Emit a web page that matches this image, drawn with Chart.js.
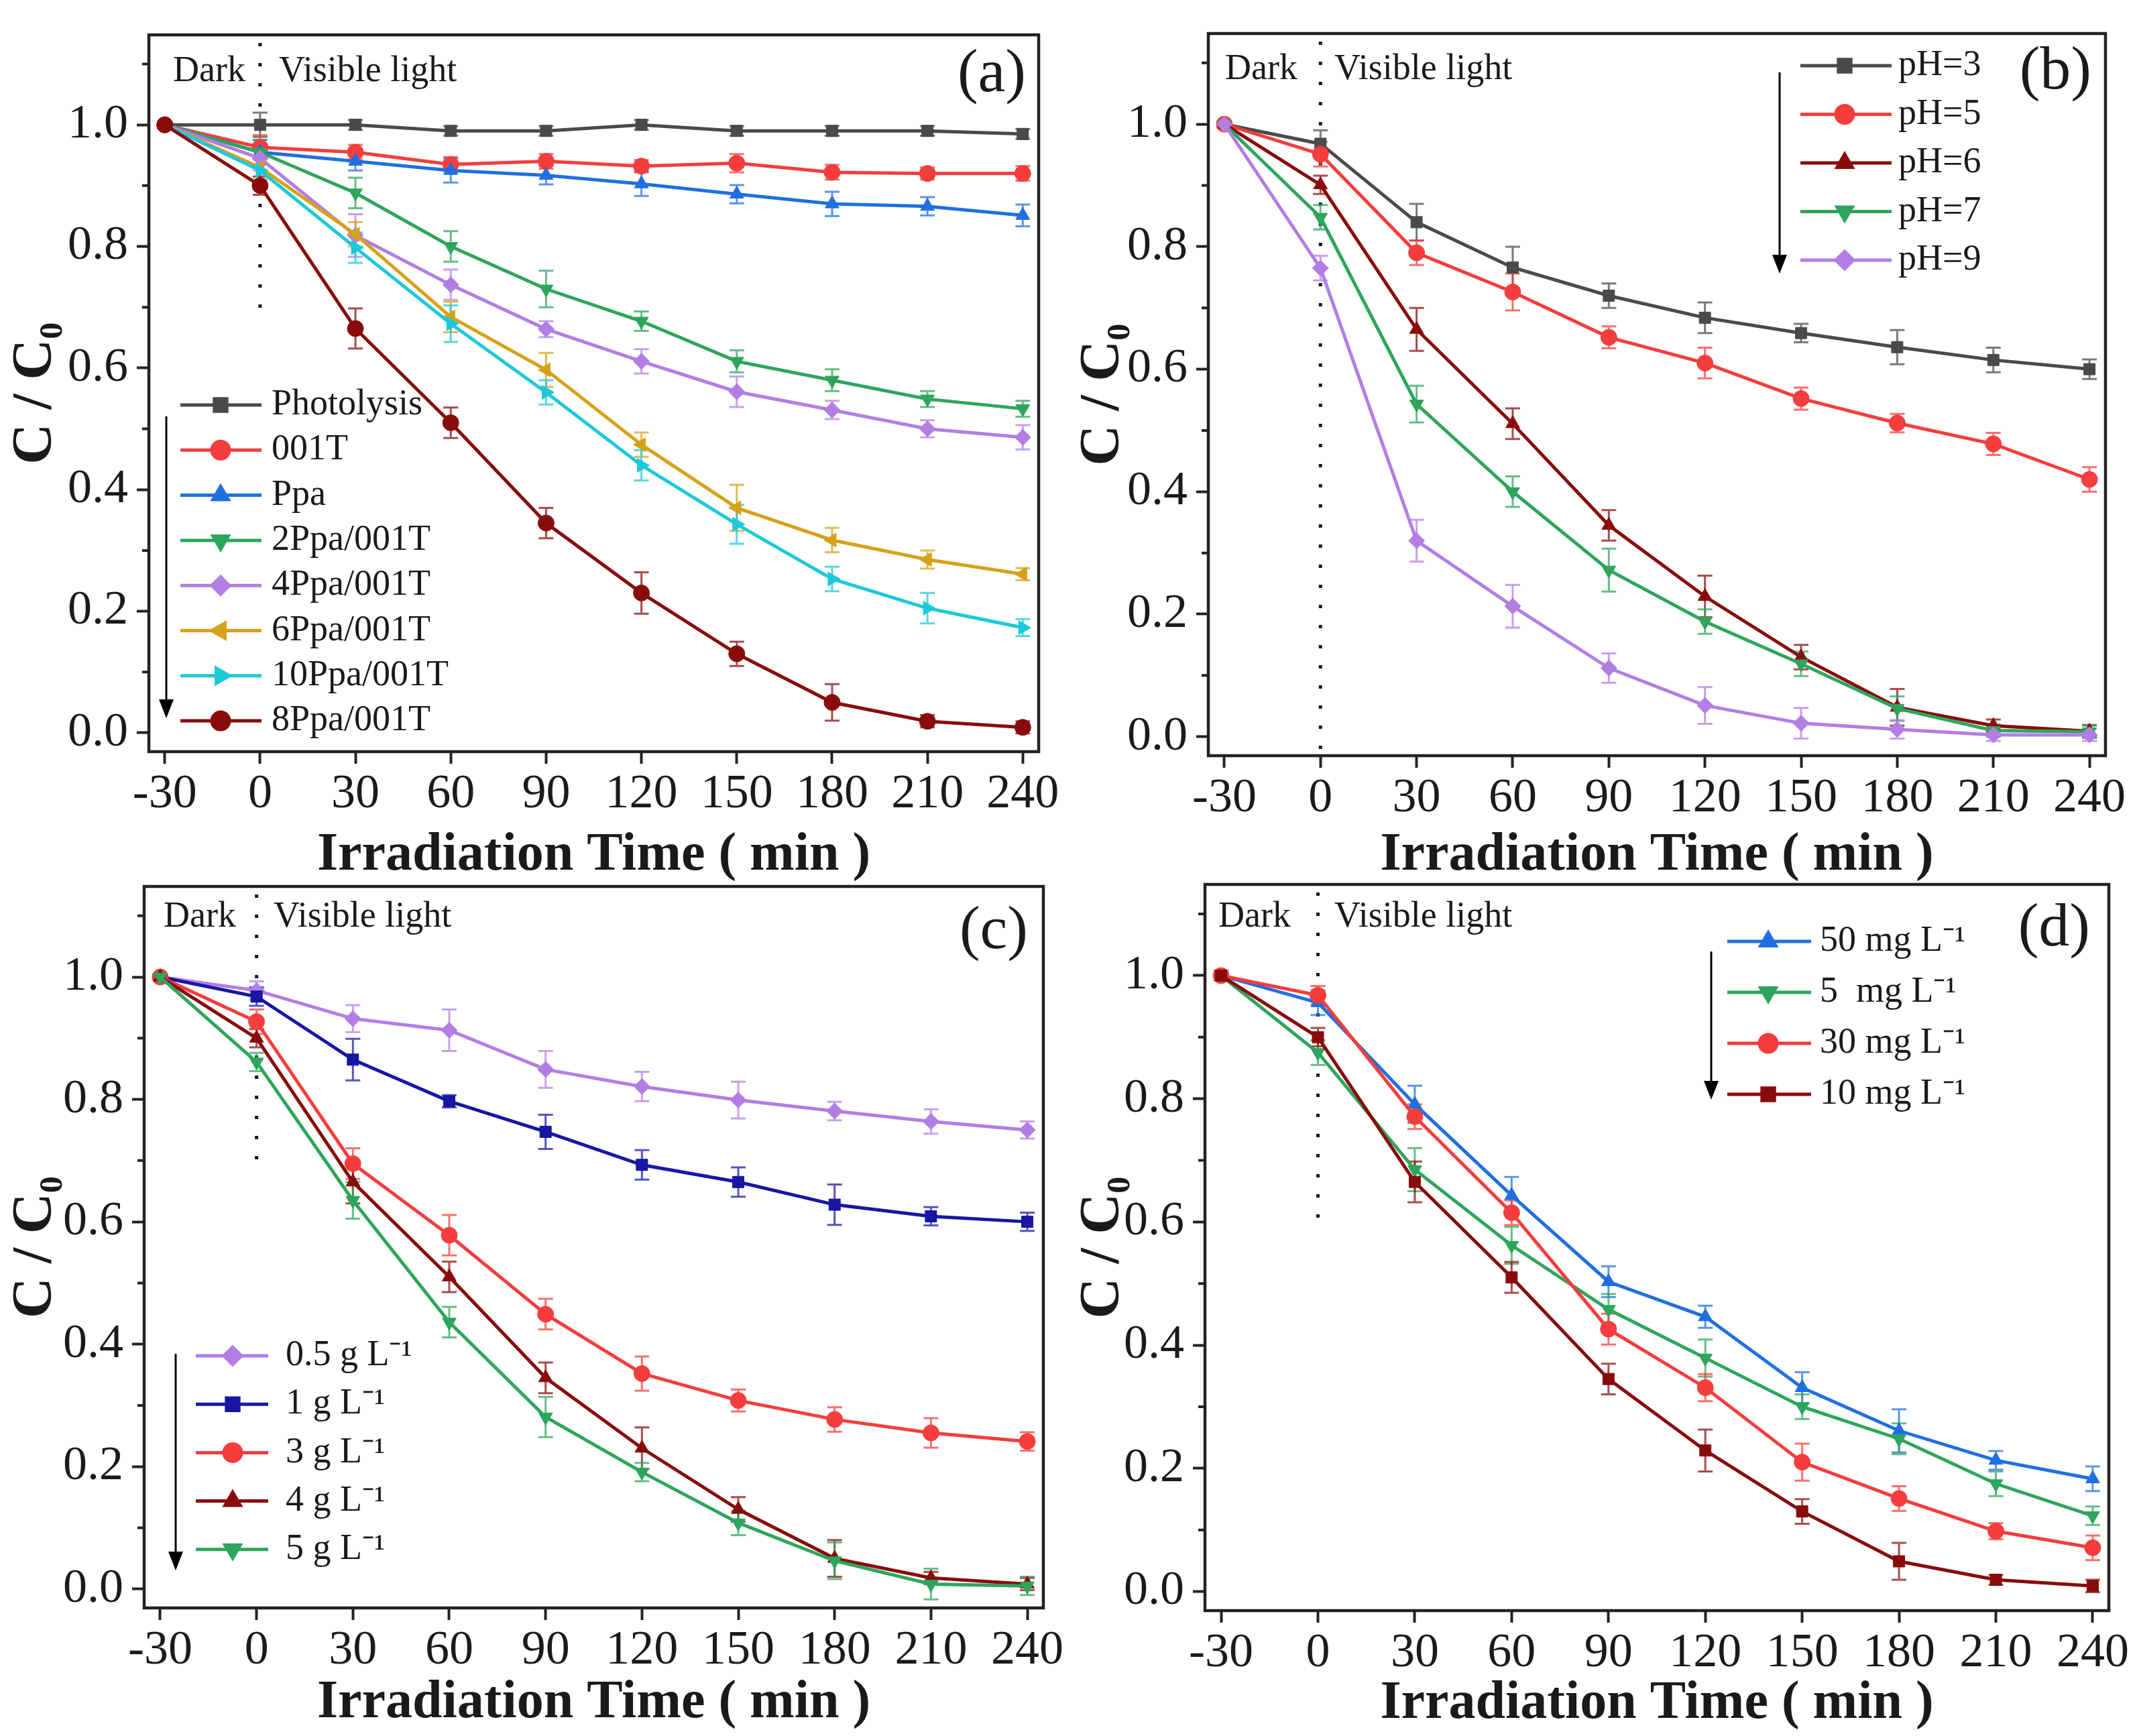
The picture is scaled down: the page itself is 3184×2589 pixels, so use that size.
<!DOCTYPE html>
<html>
<head>
<meta charset="utf-8">
<script src="https://cdn.jsdelivr.net/npm/chart.js@4.4.1/dist/chart.umd.min.js"></script>
<style>
  html, body { margin: 0; padding: 0; background: #fff; }
  #wrap { position: relative; width: 3184px; height: 2589px; overflow: hidden; }
  canvas { position: absolute; }
</style>
</head>
<body>
<div id="wrap">
  <canvas id="chartA" width="1592" height="1330" style="left:0px;top:0px"></canvas>
  <canvas id="chartB" width="1592" height="1330" style="left:1592px;top:0px"></canvas>
  <canvas id="chartC" width="1592" height="1330" style="left:0px;top:1259px"></canvas>
  <canvas id="chartD" width="1592" height="1330" style="left:1592px;top:1259px"></canvas>
</div>
<script>
// shared axes
const timeMin = [-30, 0, 30, 60, 90, 120, 150, 180, 210, 240];
const xTicks = [-30, 0, 30, 60, 90, 120, 150, 180, 210, 240];
const yTicks = [0, 0.2, 0.4, 0.6, 0.8, 1.0];
const yMinor = [0.1, 0.3, 0.5, 0.7, 0.9, 1.1];

// (a) catalysts
const namesA = ['Photolysis', '001T', 'Ppa', '2Ppa/001T', '4Ppa/001T', '6Ppa/001T', '10Ppa/001T', '8Ppa/001T'];
const photolysis = [1.0, 1.0, 1.0, 0.99, 0.99, 1.0, 0.99, 0.99, 0.99, 0.985];
const photolysisErr = [0.005, 0.02, 0.008, 0.008, 0.008, 0.008, 0.008, 0.008, 0.008, 0.008];
const t001 = [1.0, 0.963, 0.955, 0.935, 0.94, 0.932, 0.937, 0.922, 0.92, 0.92];
const t001Err = [0.005, 0.02, 0.012, 0.012, 0.012, 0.01, 0.015, 0.012, 0.01, 0.012];
const ppa = [1.0, 0.955, 0.94, 0.925, 0.917, 0.903, 0.886, 0.87, 0.866, 0.851];
const ppaErr = [0.005, 0.02, 0.015, 0.02, 0.015, 0.02, 0.015, 0.02, 0.015, 0.018];
const ppa2 = [1.0, 0.955, 0.888, 0.80, 0.73, 0.677, 0.611, 0.58, 0.549, 0.533];
const ppa2Err = [0.005, 0.02, 0.025, 0.025, 0.03, 0.016, 0.018, 0.018, 0.013, 0.013];
const ppa4 = [1.0, 0.945, 0.818, 0.737, 0.664, 0.611, 0.561, 0.531, 0.50, 0.486];
const ppa4Err = [0.005, 0.02, 0.035, 0.025, 0.013, 0.02, 0.025, 0.015, 0.014, 0.02];
const ppa6 = [1.0, 0.93, 0.82, 0.684, 0.597, 0.474, 0.37, 0.317, 0.285, 0.261];
const ppa6Err = [0.005, 0.02, 0.02, 0.025, 0.028, 0.02, 0.038, 0.02, 0.015, 0.01];
const ppa10 = [1.0, 0.925, 0.798, 0.673, 0.56, 0.44, 0.343, 0.253, 0.205, 0.173];
const ppa10Err = [0.005, 0.02, 0.025, 0.03, 0.02, 0.025, 0.032, 0.02, 0.025, 0.014];
const ppa8 = [1.0, 0.90, 0.665, 0.51, 0.345, 0.23, 0.13, 0.05, 0.019, 0.009];
const ppa8Err = [0.005, 0.015, 0.033, 0.025, 0.025, 0.034, 0.02, 0.03, 0.01, 0.01];

// (b) pH
const namesB = ['pH=3', 'pH=5', 'pH=6', 'pH=7', 'pH=9'];
const ph3 = [1.0, 0.968, 0.84, 0.766, 0.72, 0.684, 0.659, 0.636, 0.615, 0.60];
const ph3Err = [0.005, 0.022, 0.03, 0.034, 0.02, 0.025, 0.015, 0.028, 0.02, 0.016];
const ph5 = [1.0, 0.951, 0.79, 0.726, 0.652, 0.61, 0.552, 0.512, 0.478, 0.42];
const ph5Err = [0.005, 0.02, 0.02, 0.03, 0.018, 0.025, 0.018, 0.015, 0.018, 0.02];
const ph6 = [1.0, 0.901, 0.665, 0.511, 0.345, 0.229, 0.13, 0.048, 0.018, 0.009];
const ph6Err = [0.005, 0.015, 0.035, 0.025, 0.025, 0.034, 0.02, 0.03, 0.01, 0.01];
const ph7 = [1.0, 0.848, 0.543, 0.40, 0.272, 0.188, 0.119, 0.046, 0.01, 0.008];
const ph7Err = [0.005, 0.02, 0.03, 0.025, 0.035, 0.02, 0.02, 0.02, 0.01, 0.01];
const ph9 = [1.0, 0.765, 0.32, 0.213, 0.112, 0.051, 0.022, 0.012, 0.003, 0.003];
const ph9Err = [0.005, 0.02, 0.034, 0.035, 0.024, 0.03, 0.025, 0.015, 0.01, 0.01];

// (c) catalyst dosage
const namesC = ['0.5 g L\u207B\u00B9', '1 g L\u207B\u00B9', '3 g L\u207B\u00B9', '4 g L\u207B\u00B9', '5 g L\u207B\u00B9'];
const dose05 = [1.0, 0.978, 0.932, 0.913, 0.849, 0.821, 0.799, 0.781, 0.764, 0.75];
const dose05Err = [0.005, 0.015, 0.022, 0.034, 0.03, 0.024, 0.03, 0.015, 0.02, 0.014];
const dose1 = [1.0, 0.968, 0.865, 0.797, 0.747, 0.693, 0.665, 0.628, 0.609, 0.60];
const dose1Err = [0.005, 0.015, 0.034, 0.01, 0.028, 0.024, 0.024, 0.033, 0.015, 0.015];
const dose3 = [1.0, 0.927, 0.695, 0.578, 0.449, 0.352, 0.308, 0.277, 0.255, 0.241];
const dose3Err = [0.005, 0.02, 0.025, 0.033, 0.025, 0.028, 0.018, 0.02, 0.024, 0.015];
const dose4 = [1.0, 0.90, 0.665, 0.51, 0.345, 0.23, 0.13, 0.05, 0.018, 0.008];
const dose4Err = [0.005, 0.015, 0.035, 0.025, 0.025, 0.034, 0.02, 0.03, 0.01, 0.01];
const dose5 = [1.0, 0.861, 0.635, 0.436, 0.281, 0.191, 0.108, 0.046, 0.008, 0.005];
const dose5Err = [0.005, 0.015, 0.03, 0.025, 0.033, 0.015, 0.02, 0.03, 0.025, 0.015];

// (d) initial concentration
const namesD = ['50 mg L\u207B\u00B9', '5  mg L\u207B\u00B9', '30 mg L\u207B\u00B9', '10 mg L\u207B\u00B9'];
const conc50 = [1.0, 0.956, 0.791, 0.643, 0.503, 0.446, 0.331, 0.261, 0.213, 0.183];
const conc50Err = [0.008, 0.02, 0.03, 0.03, 0.025, 0.018, 0.025, 0.035, 0.015, 0.02];
const conc5 = [1.0, 0.875, 0.685, 0.562, 0.458, 0.379, 0.30, 0.248, 0.175, 0.123];
const conc5Err = [0.005, 0.02, 0.035, 0.03, 0.025, 0.03, 0.02, 0.025, 0.02, 0.015];
const conc30 = [1.0, 0.968, 0.771, 0.615, 0.426, 0.331, 0.21, 0.151, 0.098, 0.071];
const conc30Err = [0.005, 0.015, 0.02, 0.02, 0.025, 0.022, 0.03, 0.02, 0.013, 0.02];
const conc10 = [1.0, 0.90, 0.665, 0.51, 0.345, 0.229, 0.13, 0.049, 0.019, 0.009];
const conc10Err = [0.005, 0.015, 0.033, 0.025, 0.025, 0.034, 0.02, 0.03, 0.008, 0.01];

const GRAY = '#4a4a4a', RED = '#f43d3d', BLUE = '#1f6fe0', GREEN = '#2ea55c', PURPLE = '#b27ee3';
const GOLD = '#d6a11a', CYAN = '#1cc9d8', DARKRED = '#880c0c', NAVY = '#1717a3';

const W = 1592, H = 1330;
const SERIF = "'Liberation Serif', 'Times New Roman', serif";
const INK = '#1a1a1a';

// marker: [pointStyle, rotation]
const SQUARE = ['rect', 0], CIRCLE = ['circle', 0], UP = ['triangle', 0], DOWN = ['triangle', 180];
const DIAMOND = ['rectRot', 0], LEFT = ['triangle', 270], RIGHT = ['triangle', 90];

function series(label, vals, errs, color, marker, i) {
  return {
    label: label,
    data: timeMin.map((t, k) => ({ x: t, y: vals[k] })),
    errors: errs,
    errorColor: color + 'bb',
    borderColor: color,
    backgroundColor: color,
    borderWidth: 5,
    pointStyle: marker[0],
    pointRotation: marker[1],
    pointRadius: 12,
    pointBorderWidth: 1,
    tension: 0,
    order: -i
  };
}

function marker(ctx, ds, x, y) {
  if (Chart.helpers && Chart.helpers.drawPoint) {
    Chart.helpers.drawPoint(ctx, { pointStyle: ds.pointStyle, rotation: ds.pointRotation, radius: 13, borderWidth: 1 }, x, y);
  } else {
    ctx.beginPath(); ctx.arc(x, y, 13, 0, Math.PI * 2); ctx.fill();
  }
}

const panelDecor = {
  id: 'panelDecor',
  beforeDatasetsDraw(chart, args, o) {
    const ctx = chart.ctx, xs = chart.scales.x, ys = chart.scales.y, area = chart.chartArea;
    // dotted dark / light separator
    ctx.save();
    ctx.strokeStyle = INK;
    ctx.lineWidth = 5;
    ctx.setLineDash([5, 25]);
    const x0 = xs.getPixelForValue(0);
    ctx.beginPath();
    ctx.moveTo(x0, area.top + 12);
    ctx.lineTo(x0, o.sepEnd === null ? area.bottom : ys.getPixelForValue(o.sepEnd));
    ctx.stroke();
    ctx.restore();
    // error bars
    chart.data.datasets.forEach(ds => {
      ctx.save();
      ctx.strokeStyle = ds.errorColor;
      ctx.lineWidth = 3;
      ds.data.forEach((p, k) => {
        const e = ds.errors[k];
        const px = xs.getPixelForValue(p.x);
        const top = ys.getPixelForValue(p.y + e), bot = ys.getPixelForValue(p.y - e);
        ctx.beginPath();
        ctx.moveTo(px, top); ctx.lineTo(px, bot);
        ctx.moveTo(px - 11, top); ctx.lineTo(px + 11, top);
        ctx.moveTo(px - 11, bot); ctx.lineTo(px + 11, bot);
        ctx.stroke();
      });
      ctx.restore();
    });
  },
  afterDraw(chart, args, o) {
    const ctx = chart.ctx, ys = chart.scales.y, area = chart.chartArea;
    ctx.save();
    // frame
    ctx.strokeStyle = '#222';
    ctx.lineWidth = 4.5;
    ctx.strokeRect(area.left, area.top, area.right - area.left, area.bottom - area.top);
    // minor y ticks
    ctx.lineWidth = 4;
    ctx.beginPath();
    yMinor.forEach(v => {
      const py = ys.getPixelForValue(v);
      ctx.moveTo(area.left - 10, py); ctx.lineTo(area.left, py);
    });
    ctx.stroke();
    // Dark / Visible light
    ctx.fillStyle = INK;
    ctx.font = '54px ' + SERIF;
    ctx.textBaseline = 'alphabetic';
    ctx.textAlign = 'left';
    ctx.fillText('Dark', o.darkX, o.textY);
    ctx.fillText('Visible light', o.lightX, o.textY);
    // panel label
    ctx.font = '92px ' + SERIF;
    ctx.textAlign = 'right';
    ctx.textBaseline = 'middle';
    ctx.fillText(o.tag, o.tagX, o.tagY);
    // legend
    const L = o.legend;
    ctx.font = '54px ' + SERIF;
    ctx.textAlign = 'left';
    chart.data.datasets.forEach((ds, i) => {
      const yy = L.y0 + i * L.dy;
      ctx.strokeStyle = ds.borderColor;
      ctx.fillStyle = ds.backgroundColor;
      ctx.lineWidth = 5;
      ctx.beginPath();
      ctx.moveTo(L.x0, yy); ctx.lineTo(L.x1, yy);
      ctx.stroke();
      marker(ctx, ds, L.mx, yy);
      ctx.fillStyle = INK;
      ctx.fillText(ds.label, L.tx, yy);
    });
    // arrow
    const A = o.arrow;
    ctx.strokeStyle = '#000';
    ctx.fillStyle = '#000';
    ctx.lineWidth = 3;
    ctx.beginPath();
    ctx.moveTo(A.x, A.y0); ctx.lineTo(A.x, A.y1 - 26);
    ctx.stroke();
    ctx.beginPath();
    ctx.moveTo(A.x - 11, A.y1 - 28); ctx.lineTo(A.x + 11, A.y1 - 28); ctx.lineTo(A.x, A.y1);
    ctx.closePath();
    ctx.fill();
    ctx.restore();
  }
};

function makePanel(id, datasets, cfg) {
  const p = cfg.plot;
  return new Chart(document.getElementById(id), {
    type: 'line',
    data: { datasets: datasets },
    plugins: [panelDecor],
    options: {
      responsive: false,
      animation: false,
      devicePixelRatio: 1,
      layout: { padding: { left: 0, top: p.t, right: W - p.r, bottom: 0 } },
      plugins: { legend: { display: false }, tooltip: { enabled: false }, panelDecor: cfg },
      scales: {
        x: {
          type: 'linear', min: -35, max: 245,
          afterBuildTicks: s => { s.ticks = xTicks.map(v => ({ value: v })); },
          afterFit: s => { s.height = H - p.b; s.paddingLeft = 0; s.paddingRight = 0; },
          grid: { drawOnChartArea: false, tickLength: 18, tickWidth: 4, tickColor: '#222' },
          border: { display: false },
          ticks: { callback: v => String(v), font: { family: SERIF, size: 72 }, color: INK, padding: 3, maxRotation: 0, autoSkip: false },
          title: { display: true, text: 'Irradiation Time ( min )', color: INK, font: { family: SERIF, size: 80, weight: 'bold' }, padding: { top: 0, bottom: cfg.xTitlePad } }
        },
        y: {
          type: 'linear', min: -0.031, max: 1.148,
          afterBuildTicks: s => { s.ticks = yTicks.map(v => ({ value: v })); },
          afterFit: s => { s.width = p.l; s.paddingTop = 0; s.paddingBottom = 0; },
          grid: { drawOnChartArea: false, tickLength: 18, tickWidth: 4, tickColor: '#222' },
          border: { display: false },
          ticks: { callback: v => v.toFixed(1), font: { family: SERIF, size: 72 }, color: INK, padding: 13 },
          title: { display: true, text: 'C / C\u2080', color: INK, font: { family: SERIF, size: 84, weight: 'bold' }, padding: { top: 4, bottom: 0 } }
        }
      }
    }
  });
}

makePanel('chartA', [
  series(namesA[0], photolysis, photolysisErr, GRAY, SQUARE, 0),
  series(namesA[1], t001, t001Err, RED, CIRCLE, 1),
  series(namesA[2], ppa, ppaErr, BLUE, UP, 2),
  series(namesA[3], ppa2, ppa2Err, GREEN, DOWN, 3),
  series(namesA[4], ppa4, ppa4Err, PURPLE, DIAMOND, 4),
  series(namesA[5], ppa6, ppa6Err, GOLD, LEFT, 5),
  series(namesA[6], ppa10, ppa10Err, CYAN, RIGHT, 6),
  series(namesA[7], ppa8, ppa8Err, DARKRED, CIRCLE, 7)
], {
  plot: { l: 222, t: 52, r: 1549, b: 1121 }, xTitlePad: 6, sepEnd: 0.68,
  darkX: 258, lightX: 416, textY: 121, tag: '(a)', tagX: 1530, tagY: 112,
  legend: { x0: 269, x1: 390, mx: 329, tx: 405, y0: 604, dy: 67.3 },
  arrow: { x: 248, y0: 621, y1: 1071 }
});

makePanel('chartB', [
  series(namesB[0], ph3, ph3Err, GRAY, SQUARE, 0),
  series(namesB[1], ph5, ph5Err, RED, CIRCLE, 1),
  series(namesB[2], ph6, ph6Err, DARKRED, UP, 2),
  series(namesB[3], ph7, ph7Err, GREEN, DOWN, 3),
  series(namesB[4], ph9, ph9Err, PURPLE, DIAMOND, 4)
], {
  plot: { l: 210, t: 50, r: 1548, b: 1127 }, xTitlePad: 6, sepEnd: null,
  darkX: 235, lightX: 398, textY: 118, tag: '(b)', tagX: 1527, tagY: 108,
  legend: { x0: 1093, x1: 1229, mx: 1159, tx: 1239, y0: 98, dy: 72.5 },
  arrow: { x: 1062, y0: 108, y1: 408 }
});

makePanel('chartC', [
  series(namesC[0], dose05, dose05Err, PURPLE, DIAMOND, 0),
  series(namesC[1], dose1, dose1Err, NAVY, SQUARE, 1),
  series(namesC[2], dose3, dose3Err, RED, CIRCLE, 2),
  series(namesC[3], dose4, dose4Err, DARKRED, UP, 3),
  series(namesC[4], dose5, dose5Err, GREEN, DOWN, 4)
], {
  plot: { l: 215, t: 63, r: 1556, b: 1139 }, xTitlePad: 1, sepEnd: 0.69,
  darkX: 244, lightX: 408, textY: 123, tag: '(c)', tagX: 1533, tagY: 131,
  legend: { x0: 292, x1: 400, mx: 347, tx: 426, y0: 763, dy: 72.2 },
  arrow: { x: 262, y0: 760, y1: 1083 }
});

makePanel('chartD', [
  series(namesD[0], conc50, conc50Err, BLUE, UP, 0),
  series(namesD[1], conc5, conc5Err, GREEN, DOWN, 1),
  series(namesD[2], conc30, conc30Err, RED, CIRCLE, 2),
  series(namesD[3], conc10, conc10Err, DARKRED, SQUARE, 3)
], {
  plot: { l: 205, t: 60, r: 1553, b: 1143 }, xTitlePad: 0, sepEnd: 0.58,
  darkX: 225, lightX: 398, textY: 123, tag: '(d)', tagX: 1525, tagY: 127,
  legend: { x0: 984, x1: 1109, mx: 1045, tx: 1122, y0: 145, dy: 76 },
  arrow: { x: 960, y0: 160, y1: 381 }
});
</script>
</body>
</html>
